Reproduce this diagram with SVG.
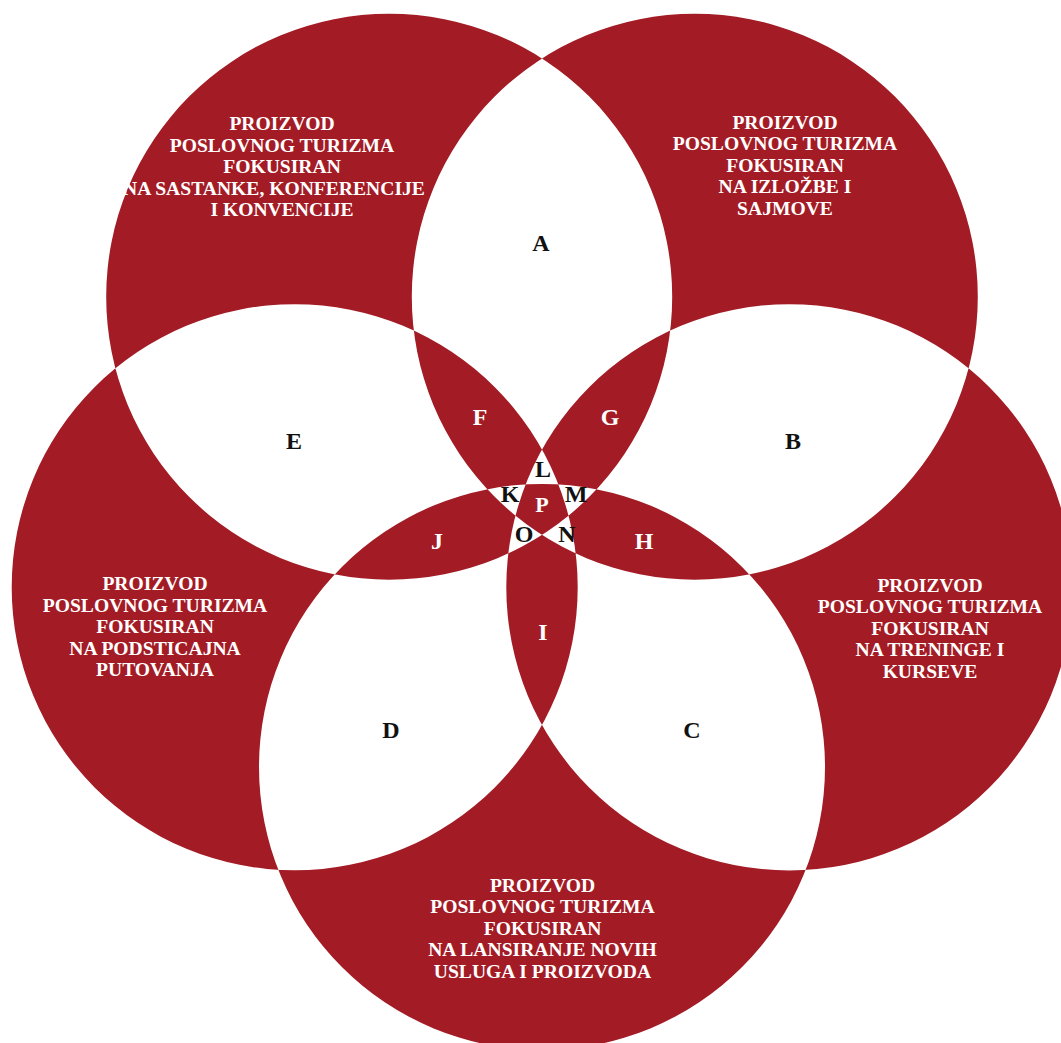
<svg xmlns="http://www.w3.org/2000/svg" width="1061" height="1043" viewBox="0 0 1061 1043">
<style>
.t{font-family:"Liberation Serif","Times New Roman",serif;font-weight:bold;font-size:19.6px;fill:#fff;text-anchor:middle}
.l{font-family:"Liberation Serif","Times New Roman",serif;font-weight:bold;font-size:24px;text-anchor:middle}
.w{fill:#fff}.k{fill:#111}
</style>
<rect width="1061" height="1043" fill="#fff"/>
<g id="venn">
<path fill="#A31C25" fill-rule="evenodd" d="
M259,767 a283,283 0 1,0 566,0 a283,283 0 1,0 -566,0 Z
M11.7,587.3 a283,283 0 1,0 566,0 a283,283 0 1,0 -566,0 Z
M106.2,296.7 a283,283 0 1,0 566,0 a283,283 0 1,0 -566,0 Z
M411.8,296.7 a283,283 0 1,0 566,0 a283,283 0 1,0 -566,0 Z
M506.3,587.3 a283,283 0 1,0 566,0 a283,283 0 1,0 -566,0 Z"/>
</g>
<g id="set-sastanci">
<text class="t" x="282" y="130">PROIZVOD</text>
<text class="t" x="282" y="151.5">POSLOVNOG TURIZMA</text>
<text class="t" x="282" y="173">FOKUSIRAN</text>
<text class="t" x="274" y="194.5">NA SASTANKE, KONFERENCIJE</text>
<text class="t" x="282" y="216">I KONVENCIJE</text>
</g>
<g id="set-izlozbe">
<text class="t" x="785" y="128.5">PROIZVOD</text>
<text class="t" x="785" y="150">POSLOVNOG TURIZMA</text>
<text class="t" x="785" y="171.5">FOKUSIRAN</text>
<text class="t" x="785" y="193">NA IZLOŽBE I</text>
<text class="t" x="785" y="214.5">SAJMOVE</text>
</g>
<g id="set-treninzi">
<text class="t" x="930" y="591.5">PROIZVOD</text>
<text class="t" x="930" y="613">POSLOVNOG TURIZMA</text>
<text class="t" x="930" y="634.5">FOKUSIRAN</text>
<text class="t" x="930" y="656">NA TRENINGE I</text>
<text class="t" x="930" y="677.5">KURSEVE</text>
</g>
<g id="set-lansiranje">
<text class="t" x="542.5" y="891.5">PROIZVOD</text>
<text class="t" x="542.5" y="913">POSLOVNOG TURIZMA</text>
<text class="t" x="542.5" y="934.5">FOKUSIRAN</text>
<text class="t" x="542.5" y="956">NA LANSIRANJE NOVIH</text>
<text class="t" x="542.5" y="977.5">USLUGA I PROIZVODA</text>
</g>
<g id="set-putovanja">
<text class="t" x="155" y="590">PROIZVOD</text>
<text class="t" x="155" y="611.5">POSLOVNOG TURIZMA</text>
<text class="t" x="155" y="633">FOKUSIRAN</text>
<text class="t" x="155" y="654.5">NA PODSTICAJNA</text>
<text class="t" x="155" y="676">PUTOVANJA</text>
</g>
<g id="regions">
<text class="l k" x="541" y="251">A</text>
<text class="l k" x="793" y="449">B</text>
<text class="l k" x="692" y="738">C</text>
<text class="l k" x="391" y="738">D</text>
<text class="l k" x="294" y="449">E</text>
<text class="l w" x="480" y="425">F</text>
<text class="l w" x="610" y="425">G</text>
<text class="l w" x="644" y="549">H</text>
<text class="l w" x="543" y="640">I</text>
<text class="l w" x="437" y="549">J</text>
<text class="l k" x="510" y="502">K</text>
<text class="l k" x="543" y="477">L</text>
<text class="l k" x="576" y="502">M</text>
<text class="l k" x="567" y="542">N</text>
<text class="l k" x="524" y="542">O</text>
<text class="l w" x="542" y="512" style="font-size:22px">P</text>
</g>
</svg>
